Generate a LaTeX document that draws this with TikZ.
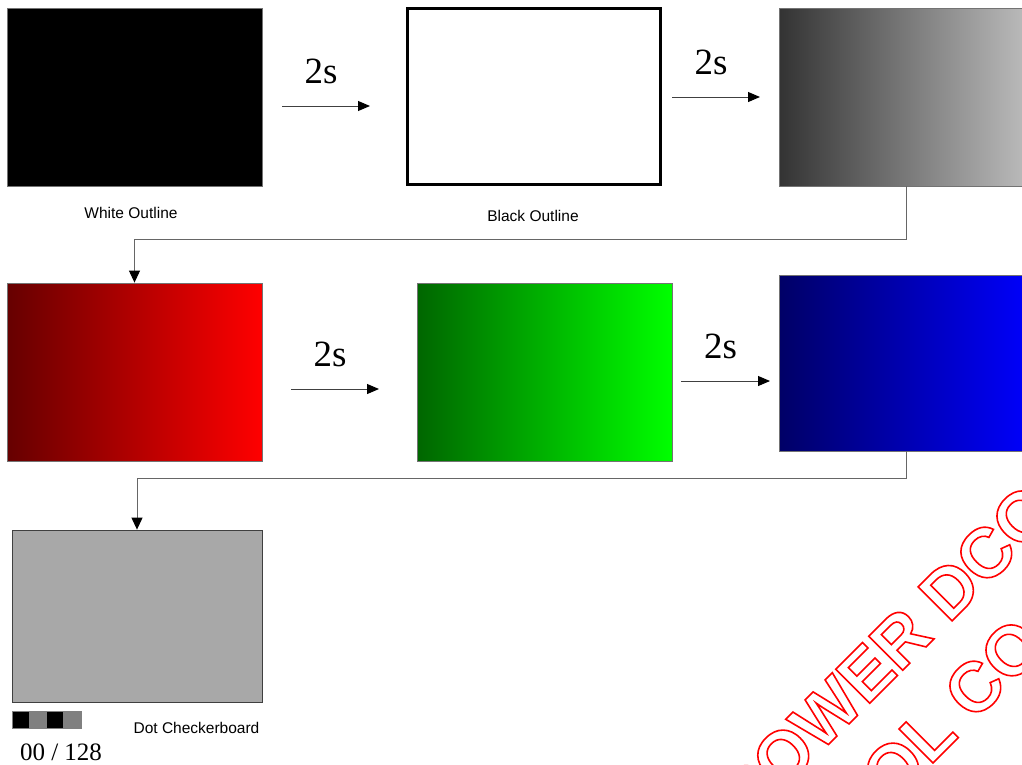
\documentclass[tikz,border=0pt]{standalone}
\usepackage{fontspec}
\setmainfont{Liberation Serif}
\newfontfamily\arialfont{Liberation Sans}
\usetikzlibrary{arrows.meta, positioning}
\tikzset{
  pnl/.style = {rectangle, inner sep=0pt, draw=black!55, line width=0.8pt,
    minimum width=255pt, minimum height=178pt},
  lbl/.style = {anchor=base, inner sep=0pt,
    font=\arialfont\fontsize{15.5}{18}\selectfont},
  tms/.style = {anchor=base, inner sep=0pt, font=\fontsize{37}{42}\selectfont},
  sq/.style = {rectangle, inner sep=0pt, minimum size=17.25pt, draw=black!50,
    line width=0.5pt},
  seta/.style = {-{Triangle[length=12pt, width=10pt, color=black]},
    line width=1pt, draw=black!75},
  lig/.style = {-{Triangle[length=12pt, width=11pt, color=black]},
    line width=1pt, draw=black!60},
  wm/.style = {rotate=45, anchor=base west, inner sep=0pt, text=red,
    font=\arialfont\bfseries\fontsize{70}{80}\selectfont}
}
% texto so com contorno
\newcommand{\oco}[1]{\special{pdf:literal 1 Tr 1.6 w}#1\special{pdf:literal 0 Tr}}

\begin{document}
\begin{tikzpicture}[x=1pt, y=-1pt]
  \useasboundingbox (0,0) rectangle (1022,764);
  \clip (0,0) rectangle (1022,764);
  \fill [white] (0,0) rectangle (1022,764);
  % primeira linha
  \node [pnl, fill=black] (blk) at (134.5,97) {};
  \node [pnl, draw=black, line width=3pt, fill=white, minimum width=253pt,
    minimum height=176pt] (bol) at (534,96.5) {};
  \node [pnl, left color=black!80, right color=black!25] (gry) at (906.5,97) {};
  \node [lbl] (t1) at (131,218) {White Outline};
  \node [lbl] (t2) at (533,221) {Black Outline};
  % segunda linha
  \node [pnl, left color=red!40!black, right color=red] (rd) at (134.5,372) {};
  \node [pnl, left color=green!40!black, right color=green] (gn) at (544.5,372) {};
  \node [pnl, left color=blue!40!black, right color=blue, minimum height=176pt]
    (bl) at (906.5,363) {};
  % terceira linha
  \node [pnl, fill=black!34, draw=black!75, minimum width=250pt,
    minimum height=172pt] (chk) at (137,616) {};
  \foreach \c [count=\i from 0] in {black, black!50, black, black!50}
    \node [sq, fill=\c] (q\i) at (20.6+17.25*\i,719.5) {};
  \node [lbl] (t3) at (196.5,733) {Dot Checkerboard};
  \node [anchor=base, inner sep=0pt, font=\fontsize{25}{30}\selectfont] (cnt)
    at (61,760) {00 / 128};
  % setas de 2s
  \foreach \xa/\xb/\y [count=\i] in {282/370/106, 672/760/97, 291/379/389,
      681/770/381} {
    \coordinate (a\i) at (\xa,\y);
    \coordinate (b\i) at (\xb,\y);
    \draw [seta] (a\i) -- (b\i);
    \path (a\i) -- (b\i) node [tms, pos=0.5, xshift=-5pt, yshift=23pt] (s\i) {2s};
  }
  \draw [lig] (gry.south) -- ++(0,53) -| (rd.north);
  \draw [lig] (bl.south) -- ++(0,27) -| (chk.north);
  % marca d'agua
  \node [wm] (wa) at (748,825) {\oco{POWER DCO}};
  \node [wm] (wb) at (891,805) {\oco{OL CO}};
\end{tikzpicture}
\end{document}
